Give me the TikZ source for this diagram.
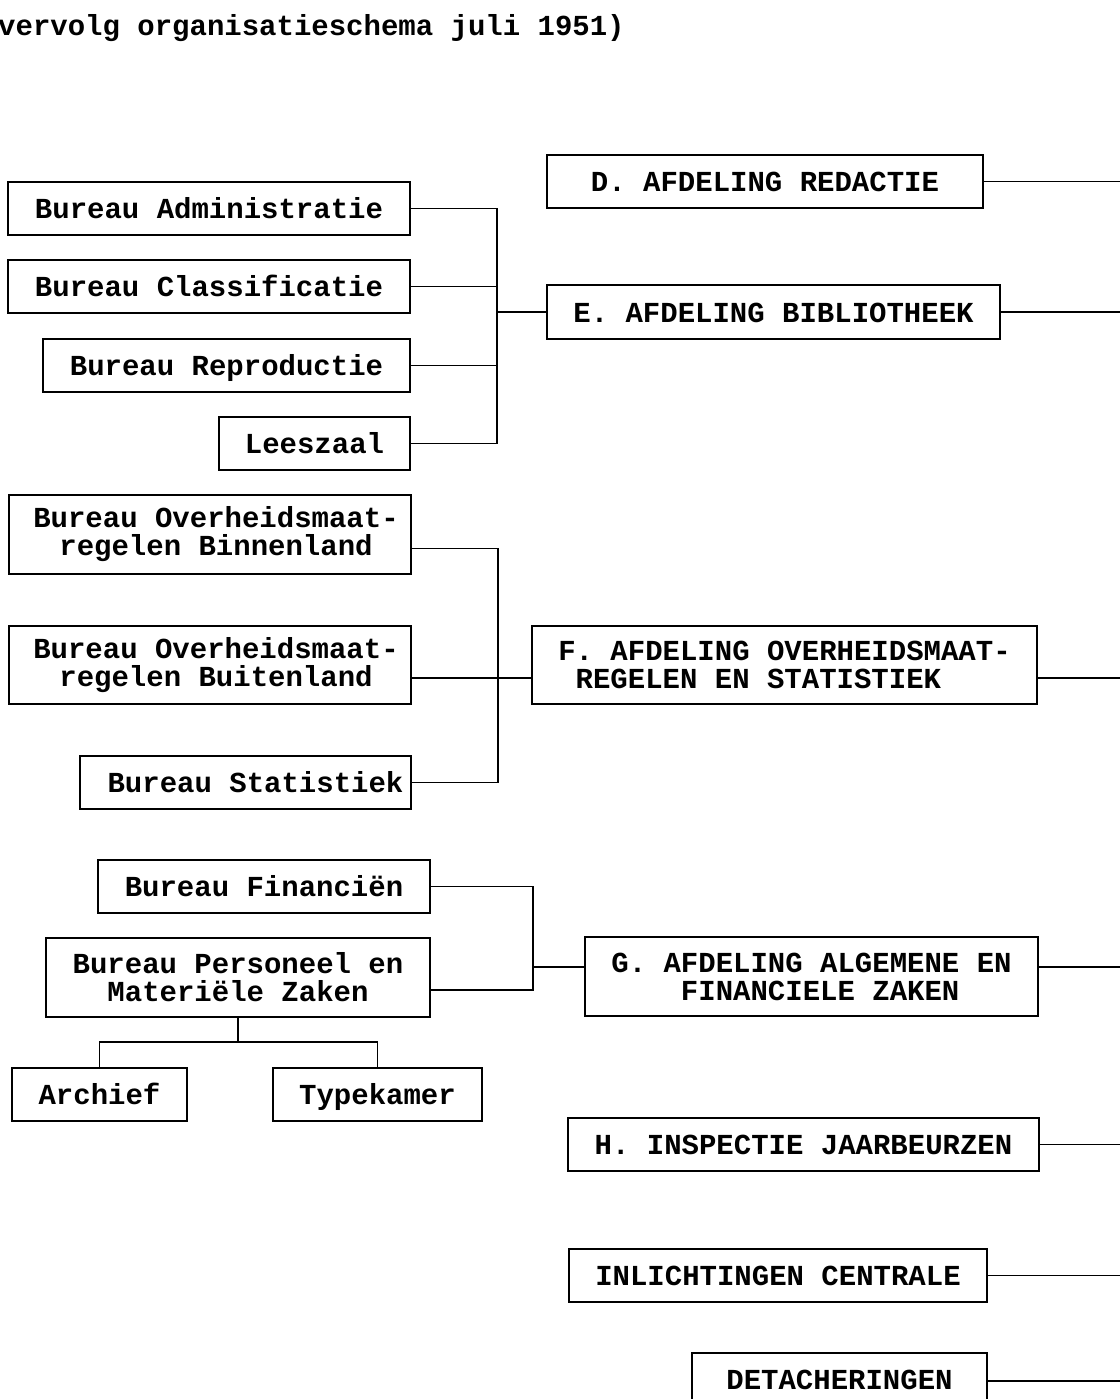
\documentclass[tikz,border=0pt]{standalone}
\usepackage{fontspec}
\setmainfont{Liberation Mono}
\usetikzlibrary{calc,positioning}

\begin{document}
\begin{tikzpicture}[x=1pt, y=-1pt,
    box/.style={draw, line width=1.8pt, inner sep=0pt, align=center,
                font=\fontsize{29}{28}\selectfont\bfseries},
    one/.style={box, text height=25pt, text depth=5pt},
    link/.style={line width=1.8pt}]
    \useasboundingbox (0,0) rectangle (1119,1399);
    \node[anchor=base west, inner sep=0pt, font=\fontsize{29}{28}\selectfont\bfseries]
         (title) at (-2,36) {vervolg organisatieschema juli 1951)};
    % Bureaus, first group
    \node[one, minimum width=402, minimum height=53] (adm) at (209,208.5) {Bureau Administratie};
    \node[one, minimum width=402, minimum height=53] (cla) at (209,286.5) {Bureau Classificatie};
    \node[one, minimum width=367, minimum height=53] (rep) at (226.5,365.5) {Bureau Reproductie};
    \node[one, minimum width=191, minimum height=53] (lee) at (314.5,443.5) {Leeszaal};
    % Bureaus, second group
    \node[box, minimum width=402, minimum height=79] (binnen) at (210,534.5)
         {\hspace*{12pt}Bureau Overheidsmaat-\\\hspace*{12pt}regelen Binnenland};
    \node[box, minimum width=402, minimum height=78] (buiten) at (210,665)
         {\hspace*{12pt}Bureau Overheidsmaat-\\\hspace*{12pt}regelen Buitenland};
    \node[one, minimum width=331, minimum height=53] (stat) at (245.5,782.5) {\hspace*{20pt}Bureau Statistiek};
    % Bureaus, third group
    \node[one, minimum width=332, minimum height=53] (fin) at (264,886.5) {Bureau Financiën};
    \node[box, minimum width=384, minimum height=79] (pers) at (238,977.5)
         {Bureau Personeel en\\Materiële Zaken};
    \node[one, minimum width=175, minimum height=53] (arch) at (99.5,1094.5) {Archief};
    \node[one, minimum width=209, minimum height=53] (type) at (377.5,1094.5) {Typekamer};
    % Afdelingen
    \node[one, minimum width=436, minimum height=53] (red) at (765,181.5) {D. AFDELING REDACTIE};
    \node[one, minimum width=453, minimum height=54] (bib) at (773.5,312) {E. AFDELING BIBLIOTHEEK};
    \node[box, align=left, minimum width=505, minimum height=78] (ovh) at (784.5,665)
         {F. AFDELING OVERHEIDSMAAT-\\\hspace*{0.6em}REGELEN EN STATISTIEK};
    \node[box, align=left, minimum width=453, minimum height=79] (alg) at (811.5,976.5)
         {G. AFDELING ALGEMENE EN\\\hspace*{2.4em}FINANCIELE ZAKEN};
    \node[one, minimum width=471, minimum height=53] (jaar) at (803.5,1144.5) {H. INSPECTIE JAARBEURZEN};
    \node[one, minimum width=418, minimum height=53] (inl) at (778,1275.5) {INLICHTINGEN CENTRALE};
    \node[one, minimum width=295, minimum height=53] (det) at (839.5,1379.5) {DETACHERINGEN};
    % Junctions
    \coordinate (j1) at (497,312);
    \coordinate (j2) at (498,678);
    \coordinate (j3) at (533,967);
    \coordinate (j4) at (238,1042);
    \coordinate (rim) at (1121,0);
    % Connectors
    \draw[link] (adm.east) -| (j1) |- (lee.east);
    \draw[link] (cla.east) -- (cla.east -| j1);
    \draw[link] (rep.east) -- (rep.east -| j1);
    \draw[link] (j1) -- (bib.west);
    \draw[link] ([yshift=-14pt]binnen.east) -| (j2) |- (stat.east);
    \draw[link] ([yshift=-13pt]buiten.east) -- ([yshift=-13pt]ovh.west);
    \draw[link] (fin.east) -| (j3) |- ([yshift=-12.5pt]pers.east);
    \draw[link] (j3) -- (alg.west |- j3);
    \draw[link] (pers.south) -- (j4);
    \draw[link] (arch.north) |- (j4) -| (type.north);
    % Lines to the right
    \draw[link] (red.east) -- (red.east -| rim);
    \draw[link] (bib.east) -- (bib.east -| rim);
    \draw[link] ([yshift=-13pt]ovh.east) -- ([yshift=-13pt]ovh.east -| rim);
    \draw[link] (alg.east |- j3) -- (j3 -| rim);
    \draw[link] (jaar.east) -- (jaar.east -| rim);
    \draw[link] (inl.east) -- (inl.east -| rim);
    \draw[link] ([yshift=-1.5pt]det.east) -- ([yshift=-1.5pt]det.east -| rim);
\end{tikzpicture}
\end{document}
